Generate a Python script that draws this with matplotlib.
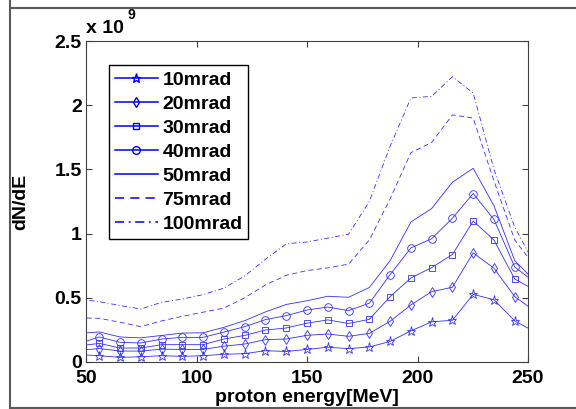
#!/usr/bin/env python3
"""
Proton spectra dN/dE for several collection angles (MATLAB-style figure).
"""
import matplotlib
matplotlib.use('Agg')
import matplotlib.pyplot as plt
from matplotlib.lines import Line2D

OUTPUT_PNG = 'out.png'

# Energy grid [MeV]; first and last points lie just outside the axes and are clipped
ENERGY = [46.6, 56.0, 65.4, 74.8, 84.2, 93.6, 103.0, 112.4, 121.8, 131.2, 140.6,
          150.0, 159.4, 168.8, 178.2, 187.6, 197.0, 206.4, 215.8, 225.2, 234.6,
          244.0, 253.4]

# dN/dE in units of 1e9
MRAD_10 = [0.058, 0.049, 0.036, 0.041, 0.049, 0.044, 0.049, 0.060, 0.065, 0.088, 0.082,
           0.098, 0.115, 0.104, 0.117, 0.160, 0.242, 0.313, 0.325, 0.527, 0.485,
           0.320, 0.232]
MRAD_20 = [0.090, 0.105, 0.085, 0.085, 0.100, 0.098, 0.098, 0.123, 0.140, 0.174, 0.179,
           0.208, 0.218, 0.200, 0.223, 0.317, 0.444, 0.548, 0.582, 0.850, 0.730,
           0.509, 0.392]
MRAD_30 = [0.125, 0.145, 0.109, 0.109, 0.135, 0.135, 0.135, 0.179, 0.207, 0.249, 0.265,
           0.302, 0.328, 0.300, 0.332, 0.509, 0.654, 0.735, 0.837, 1.098, 0.950,
           0.646, 0.558]
MRAD_40 = [0.142, 0.195, 0.153, 0.148, 0.179, 0.192, 0.192, 0.233, 0.275, 0.330, 0.361,
           0.405, 0.428, 0.400, 0.458, 0.680, 0.888, 0.960, 1.120, 1.312, 1.110,
           0.740, 0.615]
MRAD_50 = [0.222, 0.234, 0.195, 0.188, 0.207, 0.225, 0.228, 0.270, 0.322, 0.390, 0.448,
           0.477, 0.512, 0.504, 0.580, 0.789, 1.090, 1.195, 1.400, 1.508, 1.217,
           0.790, 0.625]
MRAD_75 = [0.345, 0.340, 0.310, 0.275, 0.320, 0.356, 0.388, 0.420, 0.500, 0.600, 0.675,
           0.712, 0.733, 0.762, 0.950, 1.270, 1.630, 1.710, 1.924, 1.900, 1.410,
           0.950, 0.740]
MRAD_100 = [0.490, 0.470, 0.440, 0.413, 0.465, 0.490, 0.525, 0.575, 0.670, 0.800, 0.920,
            0.935, 0.965, 0.995, 1.250, 1.680, 2.056, 2.069, 2.222, 2.095, 1.500,
            1.050, 0.750]

LABELS = ['10mrad', '20mrad', '30mrad', '40mrad', '50mrad', '75mrad', '100mrad']
X_TICKS = [50, 100, 150, 200, 250]
Y_TICKS = [0, 0.5, 1, 1.5, 2, 2.5]
Y_TICK_LABELS = ['0', '0.5', '1', '1.5', '2', '2.5']

# Styling
LINE_COLOR = '#3030ff'
LEGEND_COLOR = '#0000ff'
FONT = 'Liberation Sans'
FONT_SIZE = 14
FRAME_COLOR = '#5a5a5a'

STYLES = [
    dict(marker='*', linestyle='-', markersize=6.5),
    dict(marker='d', linestyle='-', markersize=5.5),
    dict(marker='s', linestyle='-', markersize=4.6),
    dict(marker='o', linestyle='-', markersize=5.5),
    dict(marker=None, linestyle='-'),
    dict(marker=None, linestyle=(0, (6, 4))),
    dict(marker=None, linestyle=(0, (6, 3, 1.2, 3))),
]


def main():
    plt.rcParams['font.family'] = [FONT, 'DejaVu Sans']
    plt.rcParams['font.weight'] = 'bold'

    fig = plt.figure(figsize=(5.76, 4.09), dpi=100, facecolor='white')
    ax = fig.add_axes([86 / 576, 1 - 362 / 409, 442 / 576, 321 / 409])

    series = [MRAD_10, MRAD_20, MRAD_30, MRAD_40, MRAD_50, MRAD_75, MRAD_100]
    handles = []
    for values, label, style in zip(series, LABELS, STYLES):
        ax.plot(ENERGY, values, color=LINE_COLOR, linewidth=0.6,
                markerfacecolor='none', markeredgecolor=LINE_COLOR,
                markeredgewidth=0.6, **style)
        handles.append(Line2D([], [], color=LEGEND_COLOR, linewidth=1.1,
                              markerfacecolor='none', markeredgewidth=1.0,
                              label=label, **style))

    ax.set_xlim(50, 250)
    ax.set_ylim(0, 2.5)
    ax.set_xticks(X_TICKS)
    ax.set_xticklabels([str(v) for v in X_TICKS])
    ax.set_yticks(Y_TICKS)
    ax.set_yticklabels(Y_TICK_LABELS)
    ax.tick_params(direction='in', length=4, width=0.8, color='#404040',
                   top=True, right=True, labelsize=FONT_SIZE)
    ax.tick_params(axis='x', pad=6)
    ax.tick_params(axis='y', pad=3)
    for spine in ax.spines.values():
        spine.set_color('#404040')
        spine.set_linewidth(0.8)

    ax.set_xlabel('proton energy[MeV]', fontsize=FONT_SIZE, fontweight='bold')
    ax.xaxis.set_label_coords(0.5, -0.084)
    ax.set_ylabel('dN/dE', fontsize=FONT_SIZE, fontweight='bold')
    ax.yaxis.set_label_coords(-0.128, 0.5)

    # MATLAB-style exponent above the y axis
    ax.text(0.0, 1.012, 'x 10', transform=ax.transAxes, fontsize=FONT_SIZE,
            fontweight='bold', ha='left', va='bottom')
    ax.text(0.095, 1.058, '9', transform=ax.transAxes, fontsize=10,
            fontweight='bold', ha='left', va='bottom')

    leg = ax.legend(handles=handles, loc='upper left', bbox_to_anchor=(0.052, 0.925),
                    fontsize=FONT_SIZE, frameon=True, fancybox=False, framealpha=1,
                    edgecolor='black', handlelength=2.2, handletextpad=0.25,
                    labelspacing=0.33, borderpad=0.3, borderaxespad=0)
    leg.get_frame().set_linewidth(1.0)

    # Screenshot frame lines around the figure
    fig.add_artist(Line2D([10 / 576, 10 / 576], [0, 1], transform=fig.transFigure,
                          color=FRAME_COLOR, linewidth=1.5))
    fig.add_artist(Line2D([10 / 576, 1], [1 - 8 / 409, 1 - 8 / 409],
                          transform=fig.transFigure, color=FRAME_COLOR, linewidth=1.5))
    fig.add_artist(Line2D([10 / 576, 1], [1 / 409, 1 / 409], transform=fig.transFigure,
                          color=FRAME_COLOR, linewidth=1.5))

    fig.savefig(OUTPUT_PNG, dpi=100, facecolor='white')
    plt.close(fig)


if __name__ == '__main__':
    main()
